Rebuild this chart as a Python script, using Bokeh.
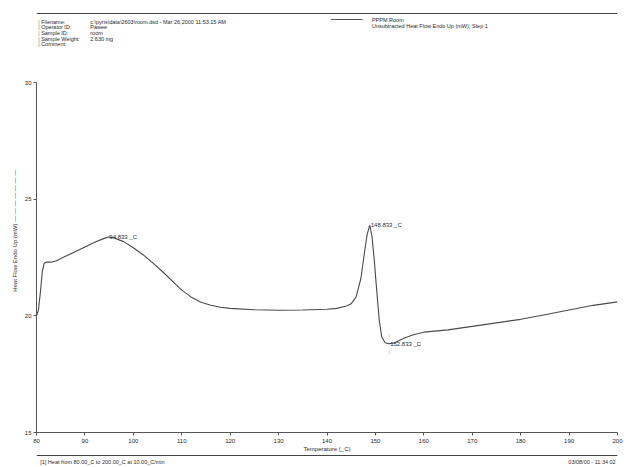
from bokeh.plotting import figure
from bokeh.models import Label, FixedTicker, Range1d
from bokeh.layouts import column
from bokeh.core.properties import value
from bokeh.embed import file_html
from bokeh.resources import INLINE

# DSC scan: heat flow (endo up) versus temperature
temperature = [80.0, 80.4, 80.8, 81.2, 81.6, 82.0, 83.0, 84.0, 86.0, 88.0, 90.0, 92.0,
               94.0, 94.833, 96.0, 98.0, 100.0, 102.0, 104.0, 106.0, 108.0, 110.0,
               112.0, 114.0, 116.0, 118.0, 120.0, 125.0, 130.0, 135.0, 140.0, 142.0,
               144.0, 145.0, 146.0, 147.0, 147.8, 148.3, 148.833, 149.3, 149.8, 150.3,
               150.8, 151.3, 152.0, 152.833, 154.0, 156.0, 158.0, 160.0, 165.0, 170.0,
               175.0, 180.0, 185.0, 190.0, 195.0, 200.0]
heat_flow = [20.0, 20.25, 21.0, 21.9, 22.25, 22.3, 22.3, 22.35, 22.55, 22.75, 22.95, 23.15,
             23.32, 23.38, 23.34, 23.18, 22.92, 22.62, 22.27, 21.9, 21.5, 21.1,
             20.8, 20.58, 20.45, 20.37, 20.32, 20.26, 20.24, 20.25, 20.28, 20.32,
             20.42, 20.52, 20.8, 21.6, 22.8, 23.5, 23.88, 23.4, 22.3, 21.0,
             19.8, 19.1, 18.85, 18.8, 18.85, 19.05, 19.2, 19.3, 19.4, 19.55,
             19.7, 19.85, 20.05, 20.25, 20.45, 20.6]

# annotated peak / trough temperatures
peak_temps = [94.833, 148.833, 152.833]
peak_labels = ["94.833 _C", "148.833 _C", "152.833 _C"]

x_ticks = [80, 90, 100, 110, 120, 130, 140, 150, 160, 170, 180, 190, 200]
y_ticks = [15, 20, 25, 30]

header_fields = ["Filename:", "Operator ID:", "Sample ID:", "Sample Weight:", "Comment:"]
header_values = ["c:\\pyris\\data\\2603\\room.dsd - Mar 26,2000 11:53:15 AM",
                 "Pawee", "room", "2.630 mg", ""]
legend_lines = ["PPPM Room", "Unsubtracted Heat Flow Endo Up (mW); Step 1"]
footer_left = "[1]  Heat from 80.00_C to 200.00_C at 10.00_C/min"
footer_right = "03/08/00 - 11:34 02"

FONT = "Liberation Sans"
INK = "#2a2a2a"
CURVE = "#4a4a4a"
RULE = "#444444"

W = 627
HEADER_H, MAIN_H, FOOTER_H = 50, 404, 13


def strip(height):
    """blank pixel-space figure used for the header and footer text"""
    f = figure(width=W, height=height, output_backend="svg", toolbar_location=None,
               x_range=Range1d(0, W), y_range=Range1d(height, 0),
               x_axis_location=None, y_axis_location=None,
               min_border=0, min_border_left=0, min_border_right=0,
               min_border_top=0, min_border_bottom=0)
    f.outline_line_color = None
    f.grid.visible = False
    return f


def put_text(f, xs, ys, texts, align="left", size="5.5px", color=INK):
    f.text(x=xs, y=ys, text=texts, text_font=value(FONT), text_font_size=size,
           text_color=color, text_align=align, text_baseline="middle")


# ---- header ----
head = strip(HEADER_H)
head.line([0, W], [13, 13], line_color=RULE, line_width=1.2)
rows_y = [21 + i * 5.7 for i in range(len(header_fields))]
put_text(head, [2] * len(rows_y), rows_y, ["|"] * len(rows_y), color="#777777")
put_text(head, [5] * len(rows_y), rows_y, header_fields)
put_text(head, [58] * len(rows_y), rows_y, header_values)
head.line([318, 352], [19, 19], line_color="#555555", line_width=1)
put_text(head, [362, 362], [19, 25], legend_lines)

# ---- main chart ----
p = figure(width=W, height=MAIN_H, output_backend="svg", toolbar_location=None,
           x_range=Range1d(80, 200), y_range=Range1d(15, 30),
           min_border_left=36, min_border_right=10,
           min_border_top=32, min_border_bottom=22)
p.outline_line_color = None
p.grid.visible = False

for ax in (p.xaxis[0], p.yaxis[0]):
    ax.axis_line_color = "#555555"
    ax.axis_line_width = 1
    ax.major_tick_line_color = "#555555"
    ax.major_tick_in = 0
    ax.major_tick_out = 3
    ax.minor_tick_line_color = None
    ax.major_label_text_font = FONT
    ax.major_label_text_font_size = "6px"
    ax.major_label_text_color = INK
    ax.axis_label_text_font = FONT
    ax.axis_label_text_font_size = "6px"
    ax.axis_label_text_font_style = "normal"
    ax.axis_label_text_color = INK

p.xaxis.ticker = FixedTicker(ticks=x_ticks)
p.yaxis.ticker = FixedTicker(ticks=y_ticks)
p.xaxis.axis_label = "Temperature (_C)"
# padding before the title balances the series stroke drawn after it
p.yaxis.axis_label = "\u00a0" * 33 + "Heat Flow Endo Up (mW)  \u2014 \u2014 \u2014 \u2014 \u2014 \u2014 \u2014"
p.xaxis.major_label_standoff = 3
p.xaxis.axis_label_standoff = 0
p.yaxis.major_label_standoff = 2
p.yaxis.axis_label_standoff = 4

p.line(temperature, heat_flow, line_color=CURVE, line_width=1.1)

# peak labels, placed at the curve value for each annotated temperature
for t, txt in zip(peak_temps, peak_labels):
    v = heat_flow[temperature.index(t)]
    p.add_layout(Label(x=t, y=v, text=txt, text_font=FONT, text_font_size="6px",
                       text_color=INK, text_baseline="middle", x_offset=1))

# small cursor marks above and below the trough
t_min = peak_temps[2]
v_min = heat_flow[temperature.index(t_min)]
for off in (8, -8):
    p.add_layout(Label(x=t_min, y=v_min, text="|", text_font=FONT, text_font_size="5px",
                       text_color="#aaaaaa", text_align="center",
                       text_baseline="middle", y_offset=off))

# ---- footer ----
foot = strip(FOOTER_H)
foot.line([0, W], [1, 1], line_color=RULE, line_width=1.2)
put_text(foot, [4], [7.5], [footer_left])
put_text(foot, [625], [7.5], [footer_right], align="right")

layout = column(head, p, foot, spacing=0)
open("out.html", "w").write(file_html(layout, INLINE))
